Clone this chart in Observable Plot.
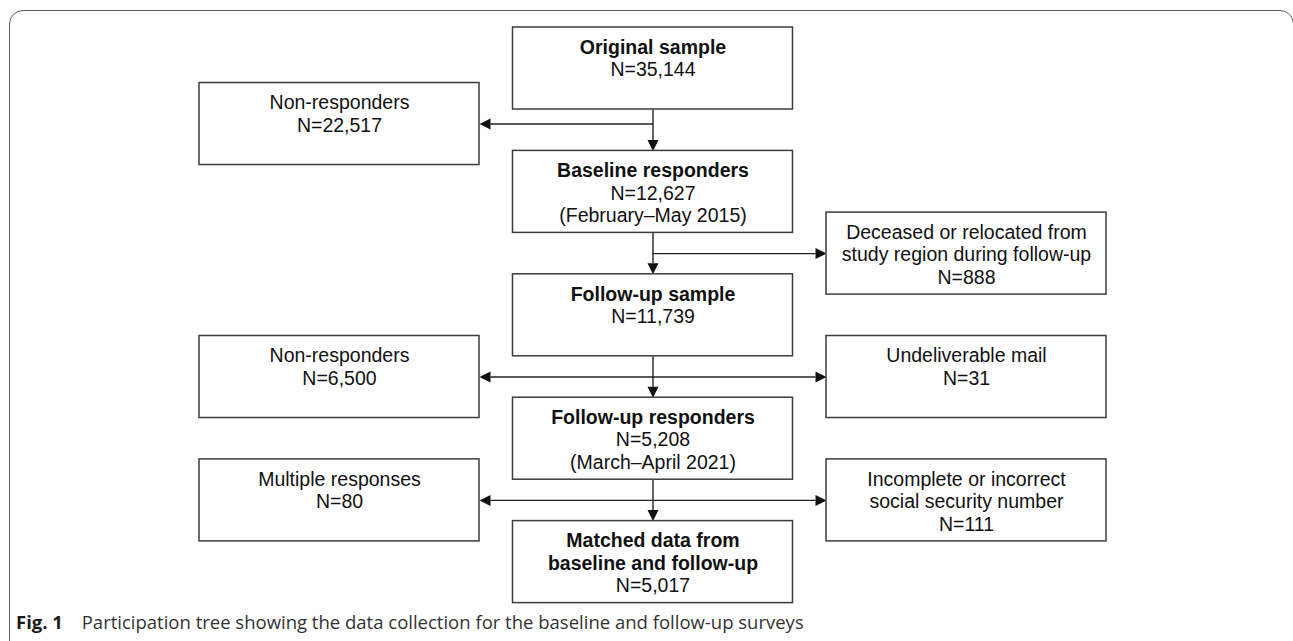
<!DOCTYPE html>
<html><head><meta charset="utf-8">
<script src="https://cdn.jsdelivr.net/npm/d3@7"></script>
<script src="https://cdn.jsdelivr.net/npm/@observablehq/plot@0.6"></script>
<style>
html,body{margin:0;padding:0;background:#fff;}
#wrap{position:relative;width:1293px;height:641px;overflow:hidden;}
#frame{position:absolute;left:9px;top:10px;width:1285px;height:720px;border:1.5px solid #5a5a5a;border-radius:14px;box-sizing:border-box;}
#chart{position:absolute;left:0;top:0;}
#caption{position:absolute;left:16px;top:610px;font-family:"Open Sans",sans-serif;font-size:18.5px;line-height:24px;color:#333;white-space:nowrap;}
#caption b{color:#1a1a1a;font-weight:700;margin-right:14px;}
</style></head><body>
<div id="wrap"><div id="frame"></div><div id="chart"></div>
<div id="caption"><b>Fig. 1</b> Participation tree showing the data collection for the baseline and follow-up surveys</div></div>
<script>
// ---- data ----
const labels = [
  "Original sample",
  "Non-responders",
  "Baseline responders",
  "Deceased or relocated from\nstudy region during follow-up",
  "Follow-up sample",
  "Non-responders",
  "Undeliverable mail",
  "Follow-up responders",
  "Multiple responses",
  "Incomplete or incorrect\nsocial security number",
  "Matched data from\nbaseline and follow-up"
];
const counts = [35144, 22517, 12627, 888, 11739, 6500, 31, 5208, 80, 111, 5017];
const periods = [null, null, "(February–May 2015)", null, null, null, null, "(March–April 2021)", null, null, null];
// layout grid: column (-1 left, 0 main, 1 right) and step row
const cols = [0, -1, 0, 1, 0, -1, 1, 0, -1, 1, 0];
const rows = [0, 0.45, 1, 1.5, 2, 2.5, 2.5, 3, 3.5, 3.5, 4];
const flowFrom = [0, 0, 2, 2, 4, 4, 4, 7, 7, 7];
const flowTo   = [1, 2, 3, 4, 5, 6, 7, 8, 9, 10];

// ---- geometry (pixels per grid unit) ----
const W = 1293, H = 641;
const KX = 313.5, KY = 123.4, X0 = 652.5, Y0 = 68;
const HW = 140 / KX, HH = 41 / KY;
const HEADL = 11, HEADW = 5.5;
const fmt = d3.format(",");

const nodes = labels.map((label, i) => ({label, count: counts[i], period: periods[i], col: cols[i], row: rows[i], main: cols[i] === 0}));

const lines = [];
nodes.forEach((n) => {
  const arr = n.label.split("\n").map(t => ({text: t, bold: n.main}));
  arr.push({text: "N=" + fmt(n.count), bold: false});
  if (n.period) arr.push({text: n.period, bold: false});
  arr.forEach((l, i) => lines.push({...l, x: n.col, y: n.row + (-21 + 22.5 * i) / KY}));
});

const segs = [], heads = [];
flowFrom.forEach((f, k) => {
  const a = nodes[f], b = nodes[flowTo[k]];
  if (b.col === 0) {
    const tip = b.row - HH;
    segs.push({x1: 0, y1: a.row + HH, x2: 0, y2: tip - HEADL / KY});
    heads.push({id: k, x: 0, y: tip}, {id: k, x: -HEADW / KX, y: tip - HEADL / KY}, {id: k, x: HEADW / KX, y: tip - HEADL / KY});
  } else {
    const s = Math.sign(b.col);
    const tip = b.col - s * HW;
    segs.push({x1: 0, y1: b.row, x2: tip - s * HEADL / KX, y2: b.row});
    heads.push({id: k, x: tip, y: b.row}, {id: k, x: tip - s * HEADL / KX, y: b.row - HEADW / KY}, {id: k, x: tip - s * HEADL / KX, y: b.row + HEADW / KY});
  }
});

const font = "'Liberation Sans', Arial, sans-serif";
const chart = Plot.plot({
  width: W, height: H,
  margin: 0,
  style: {background: "transparent"},
  x: {domain: [-X0 / KX, (W - X0) / KX], range: [0, W], axis: null},
  y: {domain: [-Y0 / KY, (H - Y0) / KY], range: [0, H], axis: null},
  marks: [
    Plot.link(segs, {x1: "x1", y1: "y1", x2: "x2", y2: "y2", stroke: "#222", strokeWidth: 1.4}),
    Plot.line(heads, {x: "x", y: "y", z: "id", fill: "#111", stroke: "none", curve: "linear-closed"}),
    Plot.rect(nodes, {x1: d => d.col - HW, x2: d => d.col + HW, y1: d => d.row - HH, y2: d => d.row + HH, fill: "white", stroke: "#3c3c3c", strokeWidth: 1.5}),
    Plot.text(lines.filter(d => d.bold), {x: "x", y: "y", text: "text", fontSize: 19.5, fontFamily: font, fontWeight: "bold", fill: "#111"}),
    Plot.text(lines.filter(d => !d.bold), {x: "x", y: "y", text: "text", fontSize: 19.5, fontFamily: font, fill: "#111"})
  ]
});
document.getElementById("chart").appendChild(chart);
</script>
</body></html>
